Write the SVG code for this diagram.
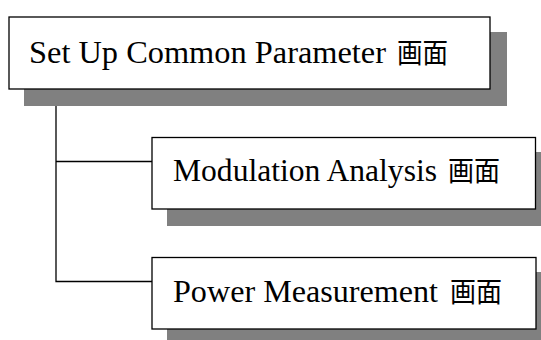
<svg xmlns="http://www.w3.org/2000/svg" width="541" height="340" viewBox="0 0 541 340">
<style>
.sh{fill:#808080}
.bx{fill:#fff;stroke:#000;stroke-width:1.3}
.t{font-family:"Liberation Serif","Noto Sans CJK JP",serif;font-size:31px;fill:#000}
.j{font-family:"Noto Sans CJK JP",sans-serif;font-size:27px;fill:#000}
.ln{fill:none;stroke:#000;stroke-width:1.3}
</style>
<rect width="541" height="340" fill="#fff"/>
<g id="connectors">
<path class="ln" d="M56 89V281.5H152M56 161.5H152"/>
</g>
<g id="node-common">
<rect class="sh" x="24" y="32" width="483" height="74"/>
<rect class="bx" x="9" y="17" width="481" height="72"/>
<text class="t" x="29" y="63" textLength="357" lengthAdjust="spacingAndGlyphs">Set Up Common Parameter</text>
<text class="j" x="397" y="63" textLength="51" lengthAdjust="spacingAndGlyphs">画面</text>
</g>
<g id="node-modulation">
<rect class="sh" x="167" y="152" width="380" height="74"/>
<rect class="bx" x="152" y="137.5" width="383.5" height="71.5"/>
<text class="t" x="173" y="181" textLength="264" lengthAdjust="spacingAndGlyphs">Modulation Analysis</text>
<text class="j" x="448" y="181" textLength="52" lengthAdjust="spacingAndGlyphs">画面</text>
</g>
<g id="node-power">
<rect class="sh" x="167" y="272" width="380" height="74"/>
<rect class="bx" x="152" y="257.5" width="384" height="71.5"/>
<text class="t" x="173" y="302" textLength="265" lengthAdjust="spacingAndGlyphs">Power Measurement</text>
<text class="j" x="450" y="302" textLength="52" lengthAdjust="spacingAndGlyphs">画面</text>
</g>
</svg>
